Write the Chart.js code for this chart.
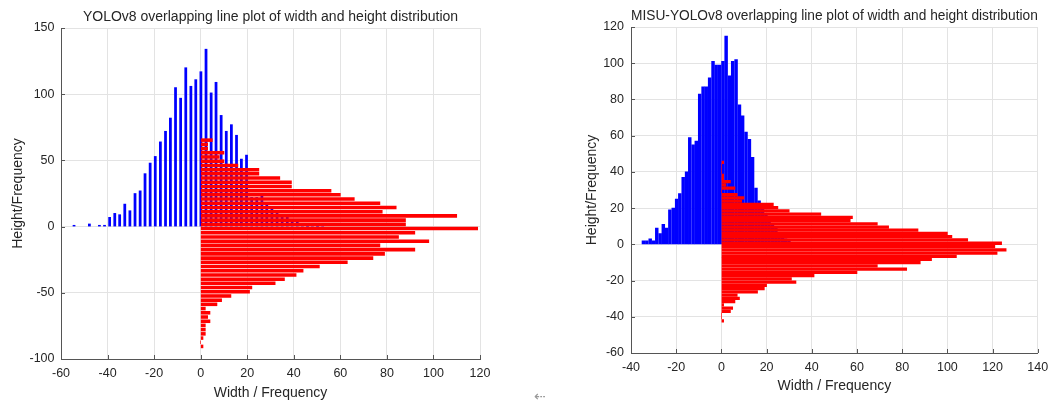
<!DOCTYPE html>
<html>
<head>
<meta charset="utf-8">
<script src="https://cdn.jsdelivr.net/npm/chart.js@4/dist/chart.umd.min.js"></script>
<style>
  body { margin: 0; background: #fff; width: 1055px; height: 406px; overflow: hidden; position: relative; font-family: "Liberation Sans", Arial, sans-serif; }
  #left { position: absolute; left: 0; top: 0; }
  #right { position: absolute; left: 527px; top: 0; }
  #mark { position: absolute; left: 534px; top: 388px; font-size: 14px; color: #999; }
</style>
</head>
<body>
<canvas id="left" width="527" height="406"></canvas>
<canvas id="right" width="528" height="406"></canvas>
<div id="mark">⇠</div>
<script>
// YOLOv8: width histogram (blue, vertical) and height histogram (red, horizontal)
const LEFT_WIDTH_BINS = [-54.4, -47.8, -43.5, -41.3, -39.1, -36.9, -34.8, -32.6, -30.4, -28.2, -26.0, -23.9, -21.7, -19.5, -17.3, -15.1, -13.0, -10.8, -8.6, -6.4, -4.2, -2.1, 0.1, 2.3, 4.5, 6.6, 8.8, 11.0, 13.2, 15.4, 17.5, 19.7, 21.9, 24.1, 26.3, 28.4, 30.6, 32.8, 35.0, 37.2, 39.3, 41.5, 43.7, 45.9, 48.0, 50.2, 52.4];
const LEFT_WIDTH_FREQ = [1, 2, 1, 1, 7, 10, 9, 17, 12, 25, 27, 40, 48, 53, 64, 72, 82, 105, 97, 120, 106, 111, 117, 134, 101, 109, 84, 72, 77, 69, 51, 54, 22, 22, 23, 18, 14, 10, 7, 7, 4, 4, 2, 0, 1, 0, 1];
const LEFT_HEIGHT_BINS = [65.3, 62.1, 58.9, 55.8, 52.6, 49.4, 46.2, 43.0, 39.9, 36.7, 33.5, 30.3, 27.1, 24.0, 20.8, 17.6, 14.4, 11.2, 8.1, 4.9, 1.7, -1.5, -4.7, -7.9, -11.0, -14.2, -17.4, -20.6, -23.8, -26.9, -30.1, -33.3, -36.5, -39.7, -42.8, -46.0, -49.2, -52.4, -55.6, -58.7, -61.9, -65.1, -68.3, -71.5, -74.6, -77.8, -81.0, -84.2, -87.4, -90.5];
const LEFT_HEIGHT_FREQ = [5, 3, 3, 10, 8, 10, 16, 25, 25, 34, 39, 39, 56, 60, 66, 77, 84, 78, 110, 88, 88, 119, 92, 85, 98, 77, 92, 79, 74, 63, 51, 44, 41, 36, 32, 22, 21, 13, 9, 7, 2, 4, 3, 4, 2, 2, 2, 1, 0, 1];

// MISU-YOLOv8
const RIGHT_WIDTH_BINS = [-34.5, -33.0, -31.5, -30.1, -28.6, -27.1, -25.7, -24.2, -22.8, -21.3, -19.8, -18.4, -16.9, -15.4, -14.0, -12.5, -11.1, -9.6, -8.1, -6.7, -5.2, -3.7, -2.3, -0.8, 0.7, 2.1, 3.6, 5.0, 6.5, 8.0, 9.4, 10.9, 12.4, 13.8, 15.3, 16.7, 18.2, 19.7, 21.1, 22.6, 24.1, 25.5, 27.0, 28.4, 29.9];
const RIGHT_WIDTH_FREQ = [2, 2, 3, 2, 9, 6, 11, 9, 19, 20, 25, 28, 37, 40, 59, 55, 57, 83, 87, 87, 92, 101, 99, 99, 101, 115, 93, 101, 102, 77, 71, 62, 58, 48, 31, 24, 20, 16, 15, 11, 10, 6, 5, 3, 2];
const RIGHT_HEIGHT_BINS = [45.3, 43.5, 41.7, 39.9, 38.1, 36.4, 34.6, 32.8, 31.0, 29.2, 27.4, 25.6, 23.8, 22.1, 20.3, 18.5, 16.7, 14.9, 13.1, 11.3, 9.5, 7.8, 6.0, 4.2, 2.4, 0.6, -1.2, -3.0, -4.8, -6.6, -8.3, -10.1, -11.9, -13.7, -15.5, -17.3, -19.1, -20.9, -22.7, -24.4, -26.2, -28.0, -29.8, -31.6, -33.4, -35.2, -37.0, -38.7, -40.5, -42.3];
const RIGHT_HEIGHT_FREQ = [1, 0, 0, 0, 1, 1, 4, 2, 6, 0, 7, 10, 9, 23, 25, 30, 44, 58, 57, 69, 74, 87, 100, 102, 109, 124, 121, 126, 122, 104, 93, 88, 69, 82, 60, 41, 31, 33, 20, 19, 16, 7, 8, 6, 1, 5, 4, 0, 0, 1];

const TEXT = "#262626";
const FONT = "'Liberation Sans', Arial, sans-serif";

// MATLAB style inward tick marks on the left and bottom axes
const innerTicks = {
    id: "innerTicks",
    afterDatasetsDraw(chart) {
        const { ctx, chartArea: a, scales: { x, y } } = chart;
        ctx.save();
        ctx.strokeStyle = "#555";
        ctx.lineWidth = 1;
        ctx.beginPath();
        x.ticks.forEach(t => {
            let px = Math.round(x.getPixelForValue(t.value)) + 0.5;
            ctx.moveTo(px, a.bottom);
            ctx.lineTo(px, a.bottom - 4);
        });
        y.ticks.forEach(t => {
            let py = Math.round(y.getPixelForValue(t.value)) + 0.5;
            ctx.moveTo(a.left, py);
            ctx.lineTo(a.left + 4, py);
        });
        ctx.stroke();
        ctx.restore();
    }
};

function makeChart(id, o) {
    let blue = o.wBins.map((x, i) => ({ x, y: o.wFreq[i] }));
    let red = o.hBins.map((y, i) => ({ x: o.hFreq[i], y }));
    return new Chart(document.getElementById(id).getContext("2d"), {
        type: "bar",
        data: {
            datasets: [{
                // first dataset is painted last, so the red bars sit on top
                data: red,
                indexAxis: "y",
                backgroundColor: "#ff0000",
                barThickness: o.redThick,
                grouped: false
            }, {
                data: blue,
                indexAxis: "x",
                backgroundColor: "#0000ff",
                barThickness: o.blueThick,
                grouped: false
            }]
        },
        options: {
            responsive: false,
            devicePixelRatio: 1,
            animation: false,
            layout: { padding: o.pad },
            plugins: {
                legend: { display: false },
                tooltip: { enabled: false },
                title: {
                    display: true,
                    text: o.title,
                    fullSize: false,
                    color: TEXT,
                    font: { family: FONT, size: 14, weight: "normal" },
                    padding: o.titlePad
                }
            },
            scales: {
                x: {
                    type: "linear",
                    min: o.xMin, max: o.xMax,
                    offset: false,
                    afterFit: s => { s.height = o.xH; },
                    grid: { color: "#e3e3e3", drawTicks: false, offset: false },
                    border: { color: "#555" },
                    ticks: { stepSize: 20, color: TEXT, padding: o.xTickPad, maxRotation: 0, font: { family: FONT, size: 12.5 } },
                    title: { display: true, text: "Width / Frequency", color: TEXT, padding: { top: 0, bottom: o.xTitlePad }, font: { family: FONT, size: 14 } }
                },
                y: {
                    type: "linear",
                    min: o.yMin, max: o.yMax,
                    offset: false,
                    afterFit: s => { s.width = o.yW; },
                    grid: { color: "#e3e3e3", drawTicks: false, offset: false },
                    border: { color: "#555" },
                    ticks: { stepSize: o.yStep, color: TEXT, padding: o.yTickPad, font: { family: FONT, size: 12.5 } },
                    title: { display: true, text: "Height/Frequency", color: TEXT, padding: { top: 9.6, bottom: 0 }, font: { family: FONT, size: 14 } }
                }
            }
        },
        plugins: [innerTicks]
    });
}

makeChart("left", {
    title: "YOLOv8 overlapping line plot of width and height distribution",
    wBins: LEFT_WIDTH_BINS, wFreq: LEFT_WIDTH_FREQ,
    hBins: LEFT_HEIGHT_BINS, hFreq: LEFT_HEIGHT_FREQ,
    xMin: -60, xMax: 120, yMin: -100, yMax: 150, yStep: 50,
    pad: { left: 0, right: 47, top: 0, bottom: 0 },
    titlePad: { top: 8.9, bottom: 2.3 },
    yW: 61, yTickPad: 6.5,
    xH: 47, xTickPad: 7.5, xTitlePad: 4.3,
    blueThick: 2.1, redThick: 2.9
});

makeChart("right", {
    title: "MISU-YOLOv8 overlapping line plot of width and height distribution",
    wBins: RIGHT_WIDTH_BINS, wFreq: RIGHT_WIDTH_FREQ,
    hBins: RIGHT_HEIGHT_BINS, hFreq: RIGHT_HEIGHT_FREQ,
    xMin: -40, xMax: 140, yMin: -60, yMax: 120, yStep: 20,
    pad: { left: 47, right: 13, top: 0, bottom: 0 },
    titlePad: { top: 7.6, bottom: 2.6 },
    yW: 57, yTickPad: 7,
    xH: 53, xTickPad: 6.8, xTitlePad: 11.6,
    blueThick: 2.8, redThick: 2.6
});
</script>
</body>
</html>
